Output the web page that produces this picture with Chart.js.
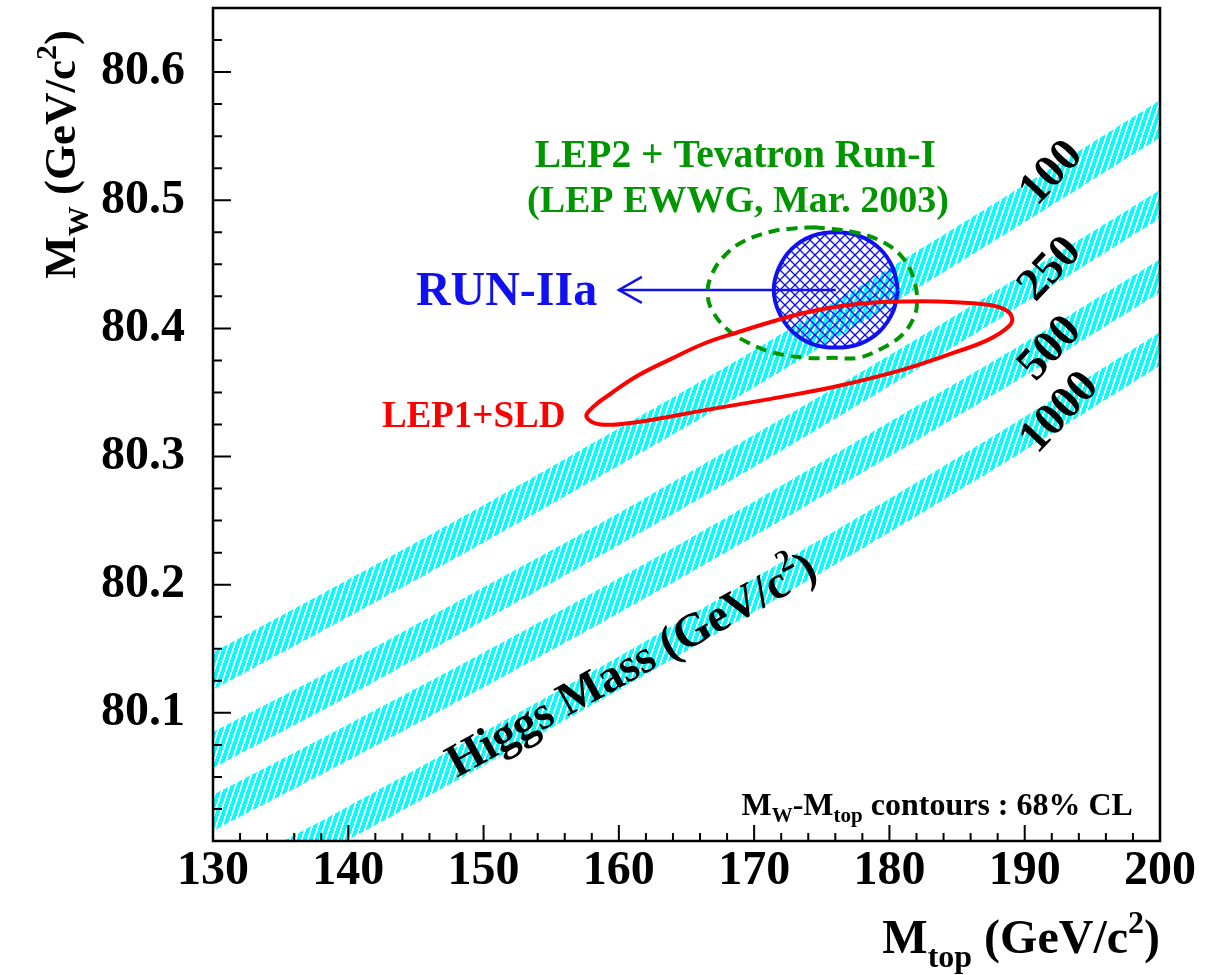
<!DOCTYPE html>
<html>
<head>
<meta charset="utf-8">
<title>MW vs Mtop</title>
<script src="https://cdn.jsdelivr.net/npm/chart.js@4.4.1/dist/chart.umd.min.js"></script>
<style>
  html, body { margin: 0; padding: 0; background: #fff; }
  canvas { display: block; }
</style>
</head>
<body>
<canvas id="chartMw" width="1214" height="975"></canvas>
<script>
// ===== DATA =====
const xTickValues = [130, 140, 150, 160, 170, 180, 190, 200];
const yTickValues = [80.1, 80.2, 80.3, 80.4, 80.5, 80.6];

// SM prediction bands, upper / lower MW edge at each Mtop
const mTop     = [130, 140, 150, 160, 170, 180, 190, 200];
const mw100Hi  = [80.147, 80.204, 80.262, 80.322, 80.383, 80.447, 80.512, 80.578];
const mw100Lo  = [80.118, 80.175, 80.233, 80.293, 80.354, 80.418, 80.483, 80.549];
const mw250Hi  = [80.085, 80.140, 80.198, 80.256, 80.317, 80.379, 80.443, 80.508];
const mw250Lo  = [80.057, 80.113, 80.172, 80.231, 80.292, 80.355, 80.420, 80.486];
const mw500Hi  = [80.036, 80.091, 80.147, 80.205, 80.265, 80.327, 80.389, 80.454];
const mw500Lo  = [80.008, 80.063, 80.120, 80.178, 80.238, 80.300, 80.363, 80.428];
const mw1000Hi = [79.971, 80.027, 80.085, 80.144, 80.205, 80.267, 80.331, 80.397];
const mw1000Lo = [79.945, 80.001, 80.059, 80.118, 80.179, 80.241, 80.305, 80.371];
const higgsMasses = ['100', '250', '500', '1000'];

// LEP1+SLD contour
const lepSldM = [171.23, 176.19, 181.07, 184.77, 187.29, 188.77, 189.07, 188.48, 186.77, 183.59, 181.07, 178.63, 176.19,
                 173.67, 171.23, 168.79, 166.27, 163.83, 161.38, 159.39, 158.13, 157.61, 158.65, 161.38, 166.27];
const lepSldW = [80.345, 80.355, 80.368, 80.381, 80.391, 80.401, 80.408, 80.415, 80.419, 80.421, 80.421, 80.420, 80.417,
                 80.412, 80.405, 80.397, 80.388, 80.376, 80.363, 80.349, 80.339, 80.331, 80.325, 80.327, 80.336];

// LEP2 + Tevatron Run-I contour
const lep2TevM = [174.41, 177.37, 179.59, 181.07, 181.81, 182.04, 181.74, 180.85, 179.37, 177.67, 175.89,
                  173.97, 171.45, 169.53, 168.05, 167.01, 166.57, 166.79, 167.75, 169.23, 171.45, 172.93];
const lep2TevW = [80.479, 80.475, 80.467, 80.454, 80.438, 80.420, 80.407, 80.394, 80.384, 80.377, 80.377,
                  80.377, 80.381, 80.389, 80.399, 80.412, 80.425, 80.440, 80.456, 80.468, 80.476, 80.478];

// Run-IIa expectation
const run2aM = [180.63, 180.26, 179.30, 177.82, 176.04, 174.26, 172.78, 171.82,
                171.45, 171.82, 172.78, 174.26, 176.04, 177.82, 179.30, 180.26];
const run2aW = [80.430, 80.447, 80.462, 80.472, 80.475, 80.472, 80.462, 80.447,
                80.430, 80.413, 80.398, 80.388, 80.385, 80.388, 80.398, 80.413];
const run2aArrowM = [176.04, 160.0];
const run2aArrowW = [80.430, 80.430];

// ===== HELPERS =====
const FONT = "'Liberation Serif', 'Times New Roman', serif";
const pts  = (xs, ys) => xs.map((x, i) => ({ x, y: ys[i] }));
const loop = (xs, ys) => { const p = pts(xs, ys); p.push(p[0]); return p; };

function makeStripes() {
  const c = document.createElement('canvas');
  c.width = 6; c.height = 18;
  const g = c.getContext('2d');
  const img = g.createImageData(6, 18);
  for (let y = 0; y < 18; y++) {
    for (let x = 0; x < 6; x++) {
      const k = ((x + Math.floor(y / 3)) % 6 + 6) % 6;
      const i = (y * 6 + x) * 4;
      const cyan = k < 4;
      img.data[i] = cyan ? 0 : 255;
      img.data[i + 1] = 255;
      img.data[i + 2] = 255;
      img.data[i + 3] = 255;
    }
  }
  g.putImageData(img, 0, 0);
  return g.createPattern(c, 'repeat');
}

function makeCrossHatch() {
  const c = document.createElement('canvas');
  c.width = 10; c.height = 10;
  const g = c.getContext('2d');
  g.strokeStyle = '#1010f0';
  g.lineWidth = 1.3;
  [-10, 0, 10].forEach(o => {
    g.beginPath(); g.moveTo(o, 0);  g.lineTo(o + 10, 10); g.stroke();
    g.beginPath(); g.moveTo(o, 10); g.lineTo(o + 10, 0);  g.stroke();
  });
  return g.createPattern(c, 'repeat');
}

function drawRuns(ctx, runs, align) {
  let w = 0;
  runs.forEach(r => {
    ctx.font = `bold ${r.size}px ${FONT}`;
    r.w = ctx.measureText(r.t).width;
    w += r.w;
  });
  let x = align === 'center' ? -w / 2 : align === 'right' ? -w : 0;
  runs.forEach(r => {
    ctx.font = `bold ${r.size}px ${FONT}`;
    ctx.fillText(r.t, x, r.dy || 0);
    x += r.w;
  });
}

// ===== ANNOTATIONS =====
const notes = [
  { at: [168.6, 80.526], align: 'center', color: '#009600', runs: [{ t: 'LEP2 + Tevatron Run-I', size: 39.5 }] },
  { at: [168.8, 80.491], align: 'center', color: '#009600', runs: [{ t: '(LEP EWWG, Mar. 2003)', size: 38 }] },
  { at: [158.4, 80.418], align: 'right', color: '#1010f0', runs: [{ t: 'RUN-IIa', size: 48 }] },
  { at: [156.05, 80.323], align: 'right', color: '#ff0000', runs: [{ t: 'LEP1+SLD', size: 37 }] },
  { at: [161.0, 80.136], align: 'center', color: '#000', angle: -29, middle: true,
    runs: [{ t: 'Higgs Mass (GeV/c', size: 47 }, { t: '2', size: 31, dy: -17 }, { t: ')', size: 47 }] },
  { at: [198.0, 80.02], align: 'right', color: '#000',
    runs: [{ t: 'M', size: 32 }, { t: 'W', size: 21, dy: 7 }, { t: '-M', size: 32 }, { t: 'top', size: 21, dy: 7 },
           { t: ' contours : 68% CL', size: 32 }] }
];
const bandLabelAt = [[192.0, 80.521], [191.9, 80.446], [191.9, 80.384], [192.6, 80.334]];
higgsMasses.forEach((m, i) => notes.push({
  at: bandLabelAt[i], align: 'center', color: '#000', angle: -47, middle: true, runs: [{ t: m, size: 46 }]
}));

const notesPlugin = {
  id: 'notes',
  afterDatasetsDraw(chart) {
    const { ctx, scales: { x, y } } = chart;
    // arrow head at the end of the Run-IIa arrow
    const tx = x.getPixelForValue(run2aArrowM[1]);
    const ty = y.getPixelForValue(run2aArrowW[1]);
    ctx.save();
    ctx.strokeStyle = '#1010f0';
    ctx.lineWidth = 2.5;
    ctx.beginPath();
    ctx.moveTo(tx + 23, ty - 13); ctx.lineTo(tx, ty); ctx.lineTo(tx + 23, ty + 13);
    ctx.stroke();
    ctx.restore();

    notes.forEach(n => {
      ctx.save();
      ctx.translate(x.getPixelForValue(n.at[0]), y.getPixelForValue(n.at[1]));
      if (n.angle) ctx.rotate(n.angle * Math.PI / 180);
      ctx.fillStyle = n.color;
      ctx.textAlign = 'left';
      ctx.textBaseline = n.middle ? 'middle' : 'alphabetic';
      drawRuns(ctx, n.runs, n.align);
      ctx.restore();
    });
  }
};

// ===== FRAME, TICKS, AXIS TITLES =====
const framePlugin = {
  id: 'frame',
  afterDraw(chart) {
    const { ctx, chartArea: { left, right, top, bottom }, scales: { x, y } } = chart;
    ctx.save();
    ctx.strokeStyle = '#000';
    ctx.lineWidth = 2.5;
    ctx.strokeRect(left, top, right - left, bottom - top);
    ctx.lineWidth = 2;
    ctx.beginPath();
    for (let i = 0; i <= 35; i++) {
      const px = x.getPixelForValue(130 + i * 2);
      const len = i % 5 === 0 ? 16 : 8;
      ctx.moveTo(px, bottom); ctx.lineTo(px, bottom - len);
    }
    for (let i = 1; i <= 26; i++) {
      const py = y.getPixelForValue(80 + i * 0.025);
      const len = i % 4 === 0 ? 18 : 9;
      ctx.moveTo(left, py); ctx.lineTo(left + len, py);
    }
    ctx.stroke();

    ctx.fillStyle = '#000';
    ctx.textAlign = 'left';
    ctx.textBaseline = 'alphabetic';
    // x title
    ctx.save();
    ctx.translate(right, bottom + 112);
    drawRuns(ctx, [{ t: 'M', size: 48 }, { t: 'top', size: 32, dy: 14 }, { t: ' (GeV/c', size: 48 },
                   { t: '2', size: 32, dy: -20 }, { t: ')', size: 48 }], 'right');
    ctx.restore();
    // y title
    ctx.save();
    ctx.translate(left - 138, top + 22);
    ctx.rotate(-Math.PI / 2);
    drawRuns(ctx, [{ t: 'M', size: 45 }, { t: 'W', size: 30, dy: 13 }, { t: ' (GeV/c', size: 45 },
                   { t: '2', size: 30, dy: -19 }, { t: ')', size: 45 }], 'right');
    ctx.restore();
    ctx.restore();
  }
};

// ===== CHART =====
function initChart() {
  const ctx = document.getElementById('chartMw').getContext('2d');
  const stripes = makeStripes();
  const hatch = makeCrossHatch();

  const datasets = [
    { data: loop(lepSldM, lepSldW), borderColor: '#ff0000', borderWidth: 4, fill: false, order: 0 },
    { data: loop(lep2TevM, lep2TevW), borderColor: '#009600', borderWidth: 4, borderDash: [11, 7], fill: false, order: 1 },
    { data: loop(run2aM, run2aW), borderColor: '#1010f0', borderWidth: 4, fill: 'shape', backgroundColor: hatch, order: 2 },
    { data: pts(run2aArrowM, run2aArrowW), borderColor: '#1010f0', borderWidth: 2.5, tension: 0, fill: false, order: 2 }
  ];
  [[mw100Hi, mw100Lo], [mw250Hi, mw250Lo], [mw500Hi, mw500Lo], [mw1000Hi, mw1000Lo]].forEach(([hi, lo]) => {
    datasets.push({ data: pts(mTop, hi), borderWidth: 0, fill: '+1', backgroundColor: stripes, tension: 0.3, order: 10 });
    datasets.push({ data: pts(mTop, lo), borderWidth: 0, fill: false, tension: 0.3, order: 10 });
  });

  const tickFont = { family: FONT, size: 48, weight: 'bold' };

  new Chart(ctx, {
    type: 'line',
    data: { datasets },
    options: {
      responsive: false,
      animation: false,
      events: [],
      layout: { padding: { top: 8, right: 54, bottom: 0, left: 0 } },
      elements: { point: { radius: 0 }, line: { tension: 0.4 } },
      plugins: { legend: { display: false }, tooltip: { enabled: false } },
      scales: {
        x: {
          type: 'linear', min: 130, max: 200,
          afterBuildTicks: s => { s.ticks = xTickValues.map(value => ({ value })); },
          afterFit: s => { s.height = 134; s.paddingLeft = 0; s.paddingRight = 0; },
          ticks: { callback: v => String(v), font: tickFont, color: '#000', padding: 2, maxRotation: 0, autoSkip: false },
          grid: { display: false, drawTicks: false },
          border: { display: false }
        },
        y: {
          type: 'linear', min: 80.0, max: 80.65,
          afterBuildTicks: s => { s.ticks = yTickValues.map(value => ({ value })); },
          afterFit: s => { s.width = 213; s.paddingTop = 0; s.paddingBottom = 0; },
          ticks: { callback: v => v.toFixed(1), font: tickFont, color: '#000', padding: 28, autoSkip: false },
          grid: { display: false, drawTicks: false },
          border: { display: false }
        }
      }
    },
    plugins: [notesPlugin, framePlugin]
  });
}

document.addEventListener('DOMContentLoaded', initChart);
</script>
</body>
</html>
